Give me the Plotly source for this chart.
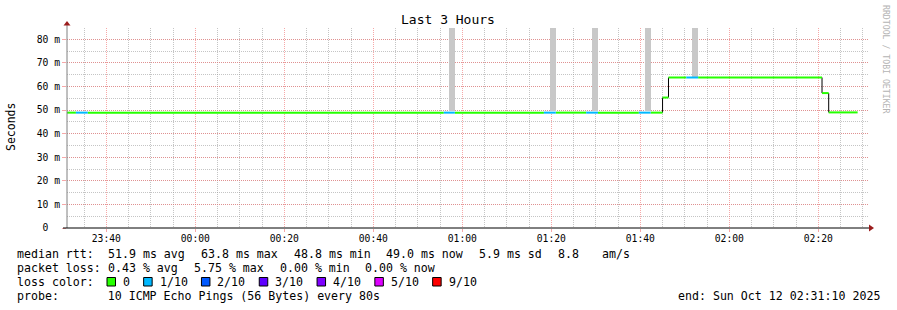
import pandas as pd
import plotly.graph_objects as go

# ---------------- data ----------------
title_text = "Last 3 Hours"
y_title = "Seconds"
watermark = "RRDTOOL / TOBI OETIKER"
t_start = "23:31:10"
t_end = "02:31:10"

# median rtt segments (start time, rtt in ms, loss count out of 10)
seg_start = ["23:31:10", "23:33:10", "23:35:50", "00:55:50", "00:58:20", "01:18:20",
             "01:21:00", "01:27:50", "01:30:30", "01:39:40", "01:42:20", "01:45:00",
             "01:46:20", "01:50:20", "01:53:00", "02:20:50", "02:22:20"]
data_end = "02:28:50"
seg_rtt = [48.9, 48.9, 48.9, 48.9, 48.9, 48.9, 48.9, 48.9, 48.9, 48.9, 48.9, 55.3,
           63.8, 63.8, 63.8, 57.2, 49.0]
seg_loss = [0, 1, 0, 1, 0, 1, 0, 1, 0, 1, 0, 0, 0, 1, 0, 0, 0]

# smoke (ping spread) bars
smoke_start = ["00:57:00", "01:19:40", "01:29:10", "01:41:00", "01:51:40"]
smoke_end = ["00:58:20", "01:21:00", "01:30:30", "01:42:20", "01:53:00"]
smoke_low = [49.5, 49.5, 49.5, 49.5, 63.9]
smoke_high = [95.0, 95.0, 95.0, 95.0, 95.0]

y_ticks = [0, 10, 20, 30, 40, 50, 60, 70, 80]
y_tick_text = ["0", "10 m", "20 m", "30 m", "40 m", "50 m", "60 m", "70 m", "80 m"]

rtt_stat_names = ["avg", "max", "min", "now"]
rtt_stat_vals = [51.9, 63.8, 48.8, 49.0]
rtt_sd = 5.9
rtt_ams = 8.8
loss_stat_vals = [0.43, 5.75, 0.00, 0.00]

loss_labels = ["0", "1/10", "2/10", "3/10", "4/10", "5/10", "9/10"]
loss_colors = ["#26ff00", "#00b8ff", "#0059ff", "#5e00ff", "#7e00ff", "#dd00ff", "#ff0000"]
loss_level_color = {0: "#26ff00", 1: "#00b8ff"}

probe_text = "10 ICMP Echo Pings (56 Bytes) every 80s"
end_text = "end: Sun Oct 12 02:31:10 2025"

# ---------------- helpers ----------------
W, H = 897, 310
PL, PR, PT, PB = 67, 868, 28, 228
FONT = "DejaVu Sans Mono"
CW = 7.0      # monospace char advance in legend
FS = 11.6     # legend font size
GAP = 1.8     # extra spacing rrdtool adds per legend element


def ts(s):
    day = "2025-10-11" if int(s[:2]) >= 12 else "2025-10-12"
    return pd.Timestamp(f"{day} {s}")


def px(x):
    return (x - PL) / (PR - PL)


def py(y):
    return (PB - y) / (PB - PT)


def nb(s):
    return s.replace(" ", "\u00a0")


starts = [ts(s) for s in seg_start]
ends = starts[1:] + [ts(data_end)]

fig = go.Figure()

# smoke bars
s0 = [ts(s) for s in smoke_start]
s1 = [ts(s) for s in smoke_end]
fig.add_trace(go.Bar(
    x=[a + (b - a) / 2 for a, b in zip(s0, s1)],
    y=[h - l for h, l in zip(smoke_high, smoke_low)],
    base=smoke_low,
    width=[(b - a).total_seconds() * 1000 for a, b in zip(s0, s1)],
    marker=dict(color="#c8c8c8", line=dict(width=0)),
    hoverinfo="skip", showlegend=False))

# black step connectors
cx, cy = [], []
for i in range(len(seg_rtt) - 1):
    if seg_rtt[i] != seg_rtt[i + 1]:
        cx += [ends[i], ends[i], None]
        cy += [seg_rtt[i], seg_rtt[i + 1], None]
fig.add_trace(go.Scatter(x=cx, y=cy, mode="lines", line=dict(color="#000000", width=1),
                         hoverinfo="skip", showlegend=False))

# coloured median segments
for lvl, col in loss_level_color.items():
    lx, ly = [], []
    for a, b, r, l in zip(starts, ends, seg_rtt, seg_loss):
        if l == lvl:
            lx += [a, b, None]
            ly += [r, r, None]
    fig.add_trace(go.Scatter(x=lx, y=ly, mode="lines", line=dict(color=col, width=2),
                             hoverinfo="skip", showlegend=False))

major_grid = "rgba(240,110,110,0.6)"
minor_grid = "rgba(150,150,150,0.55)"

fig.update_layout(
    width=W, height=H, autosize=False,
    margin=dict(l=PL, r=W - PR, t=PT, b=H - PB, pad=0),
    paper_bgcolor="white", plot_bgcolor="white",
    bargap=0, barmode="overlay",
    font=dict(family=FONT, color="black"),
    xaxis=dict(
        type="date", range=[ts(t_start), ts(t_end)],
        tickformat="%H:%M", dtick=1200000, tick0=ts("23:40:00"),
        showgrid=True, gridcolor=major_grid, griddash="1px,1px", gridwidth=1,
        ticks="outside", ticklen=3, tickcolor=major_grid, ticklabelstandoff=-2,
        tickfont=dict(family=FONT, size=9.7, color="black"),
        minor=dict(dtick=300000, tick0=ts("23:40:00"), showgrid=True,
                   gridcolor=minor_grid, griddash="1px,1px", gridwidth=1),
        showline=False, zeroline=False, fixedrange=True,
    ),
    yaxis=dict(
        range=[0, (PB - PT) / 2.359],
        tickvals=y_ticks, ticktext=[nb(t if t != "0" else "0  ") for t in y_tick_text],
        showgrid=True, gridcolor=major_grid, griddash="1px,1px", gridwidth=1,
        ticks="outside", ticklen=4, tickcolor=major_grid,
        tickfont=dict(family=FONT, size=9.7, color="black"),
        minor=dict(dtick=5, showgrid=True, gridcolor=minor_grid,
                   griddash="1px,1px", gridwidth=1),
        showline=False, zeroline=False, fixedrange=True,
    ),
)

shapes = [
    # y axis line
    dict(type="line", xref="paper", yref="paper", x0=px(67), x1=px(67), y0=py(228), y1=py(24),
         line=dict(color="#808080", width=1), layer="above"),
    # x axis line
    dict(type="line", xref="paper", yref="paper", x0=px(63), x1=px(869), y0=py(228), y1=py(228),
         line=dict(color="#000000", width=1), layer="above"),
    # arrows
    dict(type="path", xref="paper", yref="paper",
         path=f"M {px(67)},{py(21)} L {px(63.5)},{py(25.5)} L {px(70.5)},{py(25.5)} Z",
         fillcolor="#9b1c1c", line=dict(width=0), layer="above"),
    dict(type="path", xref="paper", yref="paper",
         path=f"M {px(874)},{py(228)} L {px(869)},{py(224.5)} L {px(869)},{py(231.5)} Z",
         fillcolor="#9b1c1c", line=dict(width=0), layer="above"),
]

annotations = [
    dict(text=title_text, x=px(448), y=py(19.5), xref="paper", yref="paper",
         showarrow=False, xanchor="center", yanchor="middle",
         font=dict(family=FONT, size=13, color="black")),
    dict(text=y_title, x=px(11), y=py(127), xref="paper", yref="paper", textangle=-90,
         showarrow=False, xanchor="center", yanchor="middle",
         font=dict(family=FONT, size=11.5, color="black")),
    dict(text=nb(watermark), x=px(886), y=py(59), xref="paper", yref="paper", textangle=90,
         showarrow=False, xanchor="center", yanchor="middle",
         font=dict(family=FONT, size=8.2, color="#b4b4b4")),
]


def legend_text(txt, x, yy, anchor="left"):
    annotations.append(dict(text=nb(txt), x=px(x), y=py(yy), xref="paper", yref="paper",
                            showarrow=False, xanchor=anchor, yanchor="middle",
                            font=dict(family=FONT, size=FS, color="black")))


def legend_line(parts, yy, x0=15.0):
    col = 0
    for idx, p in enumerate(parts):
        if p.strip():
            legend_text(p, x0 + col * CW + max(0, idx - 1) * GAP, yy)
        col += len(p)


line1_parts = ["median rtt:  "]
for v, k in zip(rtt_stat_vals, rtt_stat_names):
    line1_parts.append(f"{v:.1f} ms {k}  ")
line1_parts += [f"{rtt_sd:.1f} ms sd  ", f"{rtt_ams:.1f}   ", "am/s"]

line2_parts = ["packet loss: "]
for v, k in zip(loss_stat_vals, rtt_stat_names):
    line2_parts.append(f"{v:.2f} % {k}  ")

legend_line(line1_parts, 254.3)
legend_line(line2_parts, 268.3)
legend_text("loss color:", 15.0, 282.3)
legend_text("probe:       " + probe_text, 15.0, 296.3)

tx = 122.0
for lab, col in zip(loss_labels, loss_colors):
    bx = tx - 15.0
    shapes.append(dict(type="rect", xref="paper", yref="paper",
                       x0=px(bx), x1=px(bx + 8.5), y0=py(286), y1=py(277.5),
                       fillcolor=col, line=dict(color="black", width=1), layer="above"))
    legend_text(lab, tx - 1, 282.3)
    tx += len(lab) * 7.05 + 29.6

legend_text(end_text, 882, 296.3, anchor="right")

fig.update_layout(shapes=shapes, annotations=annotations)

fig.write_html("out.html")
